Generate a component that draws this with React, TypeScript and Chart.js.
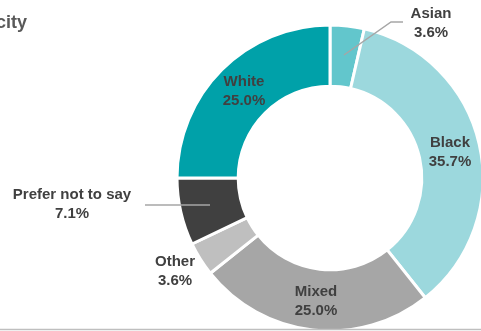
import React, { useEffect, useRef } from "react";
import { Chart, registerables } from "chart.js";

Chart.register(...registerables);

const categories = ["Asian", "Black", "Mixed", "Other", "Prefer not to say", "White"];
const values = [3.6, 35.7, 25.0, 3.6, 7.1, 25.0];
const valueLabels = ["3.6%", "35.7%", "25.0%", "3.6%", "7.1%", "25.0%"];
const colors = ["#62C6CC", "#9CD8DD", "#A6A6A6", "#BFBFBF", "#404040", "#00A1A9"];
const title = "Ethnicity";

const CX = 330;
const CY = 178;

const labelPlugin = {
  id: "labels",
  afterDraw(chart: any) {
    const ctx = chart.ctx;
    const meta = chart.getDatasetMeta(0);
    ctx.save();
    // title
    ctx.font = "bold 18px 'Liberation Sans', Arial, sans-serif";
    ctx.fillStyle = "#595959";
    ctx.textAlign = "right";
    ctx.textBaseline = "alphabetic";
    ctx.fillText(title, 27, 28);

    // bottom rule
    ctx.strokeStyle = "#BFBFBF";
    ctx.lineWidth = 1.5;
    ctx.beginPath();
    ctx.moveTo(0, 329.5);
    ctx.lineTo(700, 329.5);
    ctx.stroke();

    // leader lines
    ctx.strokeStyle = "#A6A6A6";
    ctx.lineWidth = 1.5;
    ctx.beginPath();
    ctx.moveTo(344, 55);
    ctx.lineTo(391, 22);
    ctx.lineTo(403, 22);
    ctx.stroke();
    ctx.beginPath();
    ctx.moveTo(145, 205);
    ctx.lineTo(210, 205);
    ctx.stroke();

    ctx.font = "bold 15px 'Liberation Sans', Arial, sans-serif";
    ctx.fillStyle = "#404040";
    ctx.textAlign = "center";
    ctx.textBaseline = "middle";
    const pos: Record<string, [number, number]> = {
      Asian: [431, 14],
      Black: [450, 143],
      Mixed: [316, 292],
      Other: [175, 262],
      "Prefer not to say": [72, 195],
      White: [244, 82],
    };
    meta.data.forEach((arc: any, i: number) => {
      const name = categories[i];
      const p = pos[name];
      ctx.fillText(name, p[0], p[1]);
      ctx.fillText(valueLabels[i], p[0], p[1] + 18.5);
    });
    ctx.restore();
  },
};

export default function App() {
  const ref = useRef<HTMLCanvasElement | null>(null);
  useEffect(() => {
    document.body.style.margin = "0";
    const R = 154.5;
    const W = 660;
    const H = 356;
    const chart = new Chart(ref.current as HTMLCanvasElement, {
      type: "doughnut",
      data: {
        labels: categories,
        datasets: [
          {
            data: values,
            backgroundColor: colors,
            borderColor: "#FFFFFF",
            borderWidth: 3,
            hoverOffset: 0,
          },
        ],
      },
      options: {
        responsive: false,
        animation: false,
        cutout: "60%",
        layout: {
          padding: {
            left: CX - R,
            right: W - CX - R,
            top: CY - R,
            bottom: H - CY - R,
          },
        },
        plugins: {
          legend: { display: false },
          tooltip: { enabled: false },
        },
        events: [],
      },
      plugins: [labelPlugin],
    });
    return () => chart.destroy();
  }, []);
  return (
    <div style={{ position: "relative", width: 481, height: 331, overflow: "hidden", background: "#fff" }}>
      <canvas ref={ref} width={660} height={356} style={{ position: "absolute", left: 0, top: 0, width: 660, height: 356 }} />
    </div>
  );
}
